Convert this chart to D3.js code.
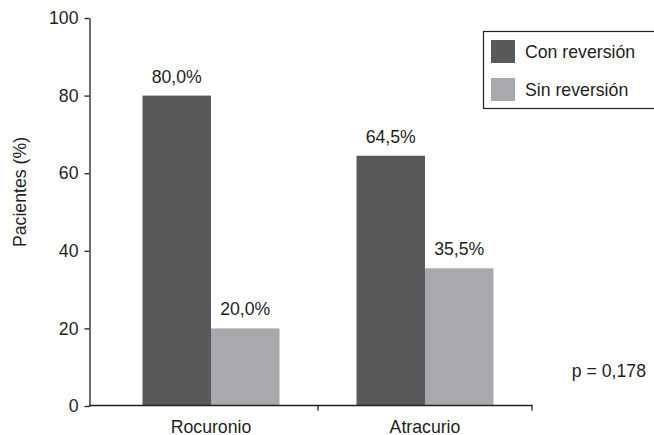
<!DOCTYPE html>
<html>
<head>
<meta charset="utf-8">
<script src="https://cdn.jsdelivr.net/npm/d3@7"></script>
<style>
  html, body { margin: 0; padding: 0; background: #fff; }
  svg { display: block; }
  text { font-family: "Liberation Sans", Arial, Helvetica, sans-serif; fill: #231f20; }
</style>
</head>
<body>
<svg id="chart" width="654" height="435"></svg>
<script>
const categories = ["Rocuronio", "Atracurio"];
const seriesNames = ["Con reversión", "Sin reversión"];
const conReversion = [80.0, 64.5];
const sinReversion = [20.0, 35.5];
const yTicks = [0, 20, 40, 60, 80, 100];
const yLabel = "Pacientes (%)";
const pValueText = "p = 0,178";
const colors = ["#58595b", "#a7a9ac"];

const rows = categories.map((c, i) => ({ cat: c, values: [conReversion[i], sinReversion[i]] }));

const svg = d3.select("#chart");
const fontSize = 17.7;

const y = d3.scaleLinear().domain([0, 100]).range([406, 18]);
const x0 = d3.scaleBand().domain(categories).range([104, 532]).padding(0);
const groupW = 137;
const x1 = d3.scaleBand().domain(seriesNames)
  .range([(x0.bandwidth() - groupW) / 2, (x0.bandwidth() + groupW) / 2]).padding(0);
const color = d3.scaleOrdinal().domain(seriesNames).range(colors);

// bars
const g = svg.append("g");
const groups = g.selectAll("g.grp").data(rows).join("g")
  .attr("transform", d => `translate(${x0(d.cat)},0)`);
groups.selectAll("rect").data(d => d.values.map((v, i) => ({ s: seriesNames[i], v })))
  .join("rect")
  .attr("x", d => x1(d.s))
  .attr("width", x1.bandwidth())
  .attr("y", d => y(d.v))
  .attr("height", d => y(0) - y(d.v))
  .attr("fill", d => color(d.s));
groups.selectAll("text.val").data(d => d.values.map((v, i) => ({ s: seriesNames[i], v })))
  .join("text")
  .attr("class", "val")
  .attr("x", d => x1(d.s) + x1.bandwidth() / 2)
  .attr("y", d => y(d.v) - 13)
  .attr("text-anchor", "middle")
  .style("font-size", fontSize + "px")
  .text(d => d.v.toFixed(1).replace(".", ",") + "%");

// y axis
const yAxis = svg.append("g").attr("transform", "translate(89.5,0)")
  .call(d3.axisLeft(y).tickValues(yTicks).tickSize(5).tickPadding(6).tickSizeOuter(0));
yAxis.selectAll("text").style("font-size", fontSize + "px").attr("fill", "#231f20");
yAxis.selectAll("line,path").attr("stroke", "#231f20").attr("stroke-width", 1.3);

// x axis
const xAxisG = svg.append("g").attr("transform", "translate(0,405.5)");
xAxisG.append("line").attr("x1", 89).attr("x2", x0.range()[1] + 0.5)
  .attr("stroke", "#231f20").attr("stroke-width", 1.3);
xAxisG.selectAll("line.tk").data(categories).join("line")
  .attr("class", "tk")
  .attr("x1", d => x0(d) + x0.bandwidth()).attr("x2", d => x0(d) + x0.bandwidth())
  .attr("y1", 0).attr("y2", 5)
  .attr("stroke", "#231f20").attr("stroke-width", 1.3);
xAxisG.selectAll("text").data(categories).join("text")
  .attr("x", d => x0(d) + x0.bandwidth() / 2)
  .attr("y", 27)
  .attr("text-anchor", "middle")
  .style("font-size", fontSize + "px")
  .text(d => d);

// y label
svg.append("text")
  .attr("transform", "translate(26,192) rotate(-90)")
  .attr("text-anchor", "middle")
  .style("font-size", fontSize + "px")
  .text(yLabel);

// p value
svg.append("text")
  .attr("x", 646).attr("y", 377)
  .attr("text-anchor", "end")
  .style("font-size", fontSize + "px")
  .text(pValueText);

// legend
const lg = svg.append("g");
lg.append("rect").attr("x", 483.5).attr("y", 31.5).attr("width", 180).attr("height", 77)
  .attr("fill", "#fff").attr("stroke", "#231f20").attr("stroke-width", 1.2);
const items = lg.selectAll("g.it").data(seriesNames).join("g")
  .attr("transform", (d, i) => `translate(491,${40 + i * 38})`);
items.append("rect").attr("width", 24).attr("height", 23).attr("fill", d => color(d));
items.append("text").attr("x", 34).attr("y", 17.5)
  .style("font-size", fontSize + "px").text(d => d);
</script>
</body>
</html>
